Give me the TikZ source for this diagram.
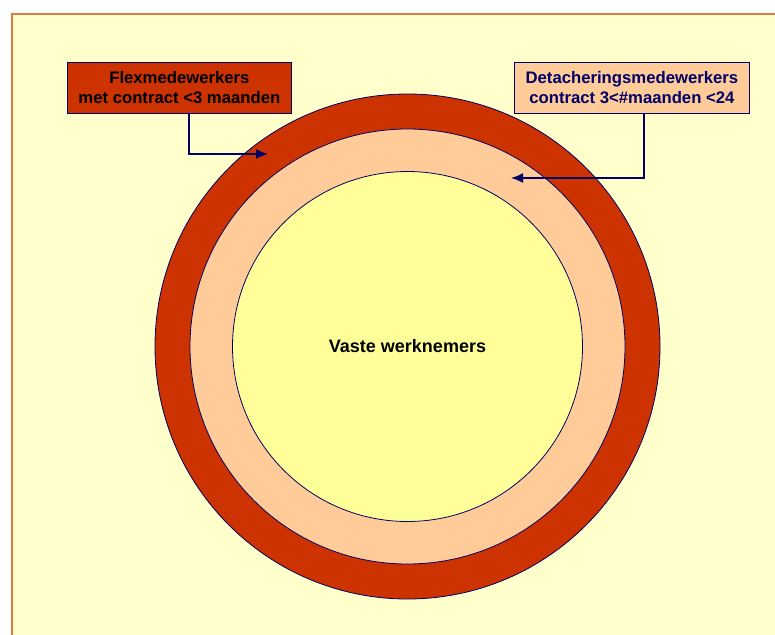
\documentclass[tikz,border=0pt]{standalone}
\usepackage{fontspec}
\setmainfont{Liberation Sans}
\usetikzlibrary{arrows.meta}
\definecolor{pagebg}{RGB}{255,255,204}
\definecolor{frameline}{RGB}{226,122,70}
\definecolor{ringouter}{RGB}{204,51,0}
\definecolor{ringmid}{RGB}{255,204,153}
\definecolor{corefill}{RGB}{255,255,153}
\definecolor{navy}{RGB}{0,0,102}
\tikzset{
  ring/.style={draw=navy, line width=0.8pt},
  labelbox/.style={draw=navy, line width=0.8pt, inner sep=0pt, align=center,
    font=\fontsize{16.7}{20}\selectfont\bfseries},
  pointer/.style={draw=navy, line width=1.5pt, -{Latex[length=12pt,width=10pt]}}
}
\begin{document}
\begin{tikzpicture}[x=1pt,y=-1pt]
  \useasboundingbox (0,0) rectangle (775,634);
  % page and frame
  \fill[white] (0,0) rectangle (775,634);
  \fill[pagebg] (12,14) rectangle (780,640);
  \draw[frameline, line width=1.2pt] (780,14) -- (12,14) -- (12,640);
  % concentric rings
  \node[ring, circle, fill=ringouter, minimum size=505pt, inner sep=0pt] (outer) at (407.5,346.5) {};
  \node[ring, circle, fill=ringmid, minimum size=435pt, inner sep=0pt] (mid) at (407.5,346.5) {};
  \node[ring, circle, fill=corefill, minimum size=350pt, inner sep=0pt] (core) at (407.5,346.5)
    {\fontsize{18}{20}\selectfont\bfseries Vaste werknemers};
  % label boxes
  \node[labelbox, fill=ringouter, text=black, minimum width=224pt, minimum height=51pt,
    anchor=north west] (flex) at (67,62) {Flexmedewerkers\\met contract <3 maanden};
  \node[labelbox, fill=ringmid, text=navy, minimum width=235pt, minimum height=51pt,
    anchor=north west] (detach) at (514,62) {Detacheringsmedewerkers\\contract 3<\#maanden <24};
  % pointer ends
  \coordinate (flextip) at (268,154);
  \coordinate (detachtip) at (511,178);
  \draw[pointer] (flex.south west) ++(122,0) |- (flextip);
  \draw[pointer] (detach.south west) ++(130,0) |- (detachtip);
\end{tikzpicture}
\end{document}
